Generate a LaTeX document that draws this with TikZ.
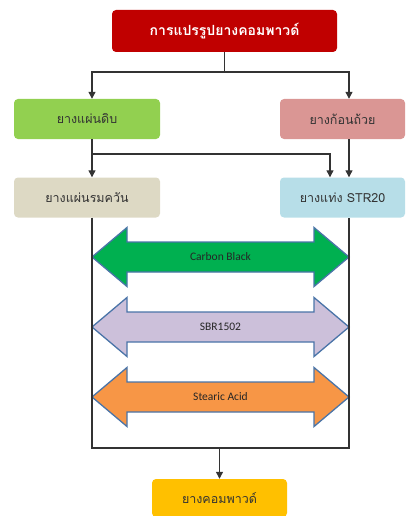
\documentclass[tikz,border=0pt]{standalone}
\usepackage{fontspec}
\newfontfamily\thaifont[Script=Thai]{Loma}
\newfontfamily\labelfont{Carlito}
\usetikzlibrary{arrows.meta}
\definecolor{titlered}{HTML}{C00000}
\definecolor{rawgreen}{HTML}{92D050}
\definecolor{cuppink}{HTML}{DA9694}
\definecolor{rssbeige}{HTML}{DDD9C4}
\definecolor{strblue}{HTML}{B7DEE8}
\definecolor{cmpyellow}{HTML}{FFC000}
\definecolor{cbgreen}{HTML}{00B050}
\definecolor{sbrlilac}{HTML}{CCC0DA}
\definecolor{saorange}{HTML}{F79646}
\definecolor{bandedge}{HTML}{4A74A8}
\definecolor{linegray}{HTML}{333333}
\begin{document}
\begin{tikzpicture}[>={Triangle[length=7pt,width=7pt]}, x=1pt, y=1pt,
    box/.style={rounded corners=4pt, minimum width=146pt, minimum height=40pt,
        font=\thaifont\fontsize{12.5}{15}\selectfont, text=black!80},
    band/.style={draw=bandedge, line width=1.3pt, line join=miter},
    bandlabel/.style={font=\labelfont\fontsize{11.5}{14}\selectfont, text=black!85},
    flow/.style={draw=linegray, line width=1.2pt}]
    \useasboundingbox (0,0) rectangle (407,-516);

    % the title box on top
    \node[box, fill=titlered, text=white, minimum width=225pt, minimum height=42pt,
        font=\thaifont\bfseries\fontsize{14}{16}\selectfont] (title) at (224.5,-31) {การแปรรูปยางคอมพาวด์};

    % the two raw rubber boxes
    \node[box, fill=rawgreen] (sheet) at (87,-119) {ยางแผ่นดิบ};
    \node[box, fill=cuppink, minimum width=125pt] (cup) at (342.5,-119) {ยางก้อนถ้วย};

    % the two processed rubber boxes
    \node[box, fill=rssbeige] (rss) at (87,-197.5) {ยางแผ่นรมควัน};
    \node[box, fill=strblue, minimum width=125pt] (str) at (342.5,-197.5) {ยางแท่ง STR20};

    % the three double arrows for the additives
    \foreach \y/\col/\name/\txt in {-257/cbgreen/cb/Carbon Black,
        -327/sbrlilac/sbr/SBR1502, -397/saorange/sa/Stearic Acid}
    {
        \draw[band, fill=\col] (92,\y) -- (127,\y+29.5) -- (127,\y+15)
            -- (314,\y+15) -- (314,\y+29.5) -- (349,\y) -- (314,\y-29.5)
            -- (314,\y-15) -- (127,\y-15) -- (127,\y-29.5) -- cycle;
        \node[bandlabel] (\name) at (220.5,\y) {\txt};
    }

    % the compound box at the bottom
    \node[box, fill=cmpyellow, minimum width=135pt, minimum height=38pt] (cmp) at (219.5,-498) {ยางคอมพาวด์};

    % the x of the two side lines, and the y of the joints
    \coordinate (lx) at (92,0);
    \coordinate (rx) at (349,0);
    \coordinate (split) at (0,-72);
    \coordinate (mid) at (0,-154);
    \coordinate (bottom) at (0,-448);

    % from the title down to both raw boxes
    \draw[flow] (title.south) -- (title.south |- split);
    \draw[flow,->] (title.south |- split) -| (lx |- sheet.north);
    \draw[flow,->] (title.south |- split) -| (rx |- cup.north);

    % from the raw boxes down to the second row
    \draw[flow,->] (lx |- sheet.south) -- (lx |- rss.north);
    \draw[flow,->] (lx |- mid) -| ([xshift=-12.5pt]str.north);
    \draw[flow,->] (rx |- cup.south) -- (rx |- str.north);

    % the frame round the arrows, and down to the compound
    \draw[flow] (lx |- rss.south) |- (rx |- bottom) -- (rx |- str.south);
    \draw[flow,->] (cmp.north |- bottom) -- (cmp.north);
\end{tikzpicture}
\end{document}
